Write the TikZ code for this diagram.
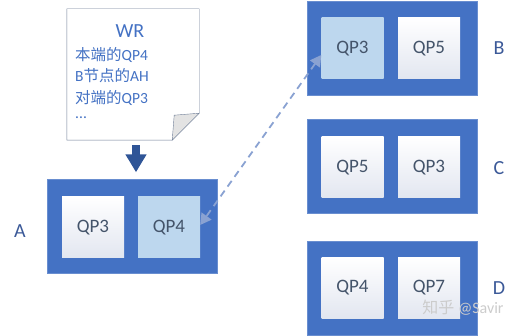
\documentclass[tikz,border=0pt]{standalone}
\usepackage{fontspec}
\setmainfont{Carlito}
\newfontfamily\cjk{Noto Sans CJK SC}
\usetikzlibrary{arrows.meta}
\definecolor{hostblue}{RGB}{68,114,196}
\definecolor{qplight}{RGB}{189,215,238}
\definecolor{qpgrad}{RGB}{226,230,240}
\definecolor{qptext}{RGB}{68,84,106}
\definecolor{labelblue}{RGB}{59,89,152}
\definecolor{notegray}{RGB}{110,125,150}
\definecolor{linkblue}{RGB}{138,162,210}
\definecolor{darkblue}{RGB}{47,85,151}

\begin{document}
\begin{tikzpicture}[x=1pt,y=-1pt,
  host/.style={draw=hostblue!80!white, fill=hostblue, minimum width=170pt, minimum height=94pt, inner sep=0pt},
  qp/.style={minimum width=62pt, minimum height=61pt, inner sep=0pt, top color=white, bottom color=qpgrad, text=qptext, font=\fontsize{19}{19}\selectfont},
  qpsel/.style={qp, top color=qplight, bottom color=qplight},
  site/.style={text=labelblue, font=\fontsize{20}{20}\selectfont},
  notetext/.style={text=hostblue, anchor=west, inner sep=0pt, font=\fontsize{15.5}{15.5}\selectfont},
  link/.style={linkblue, line width=1.8pt, dash pattern=on 7pt off 5pt, {Triangle[width=12pt,length=11pt]}-{Triangle[width=12pt,length=11pt]}}]
  \useasboundingbox (0,0) rectangle (520,336);
  % WR
  \node[minimum width=132pt, minimum height=131pt, inner sep=0pt] (wr) at (133,74.5) {};
  \draw[notegray, fill=white] (wr.north west) -- (wr.north east) -- ([yshift=27pt]wr.south east)
    -- ([xshift=-27pt]wr.south east) -- (wr.south west) -- cycle;
  \draw[notegray, fill=gray!22] ([yshift=27pt]wr.south east) -- ([xshift=-25pt,yshift=25pt]wr.south east)
    -- ([xshift=-27pt]wr.south east) -- cycle;
  \node[text=hostblue, font=\fontsize{20}{20}\selectfont] (wrtitle) at (130,31) {WR};
  \node[notetext] (wr1) at (75,55) {{\cjk 本端的}QP4};
  \node[notetext] (wr2) at (75,76) {B{\cjk 节点的}AH};
  \node[notetext] (wr3) at (75,98) {{\cjk 对端的}QP3};
  \node[notetext] (wr4) at (75,118) {...};
  % Noeuds
  \node[host] (hostA) at (132.5,226.5) {};
  \node[qp] (a3) at (93,227.5) {QP3};
  \node[qpsel] (a4) at (169,227.5) {QP4};
  \node[site] (lA) at (20,231) {A};
  \node[host] (hostB) at (392,48) {};
  \node[qpsel] (b3) at (352.5,48.5) {QP3};
  \node[qp] (b5) at (429,48.5) {QP5};
  \node[site] (lB) at (499,48) {B};
  \node[host] (hostC) at (392,166.5) {};
  \node[qp] (c5) at (352.5,167.5) {QP5};
  \node[qp] (c3) at (429,167.5) {QP3};
  \node[site] (lC) at (499,168) {C};
  \node[host] (hostD) at (392,288) {};
  \node[qp] (d4) at (352.5,288) {QP4};
  \node[qp] (d7) at (429,288) {QP7};
  \node[site] (lD) at (499,288) {D};
  % Fleches
  \draw[darkblue, line width=8pt, -{Triangle[width=20pt,length=18pt]}, shorten <=5pt, shorten >=7pt]
    ([xshift=3pt]wr.south) -- ([xshift=3pt]wr.south |- hostA.north);
  \draw[link] ([yshift=-6.5pt]b3.west) -- ([yshift=2.5pt]a4.east);
  \node[text=gray!40, font=\fontsize{16}{16}\selectfont] (mark) at (463,308) {{\cjk 知乎} @Savir};
\end{tikzpicture}
\end{document}
